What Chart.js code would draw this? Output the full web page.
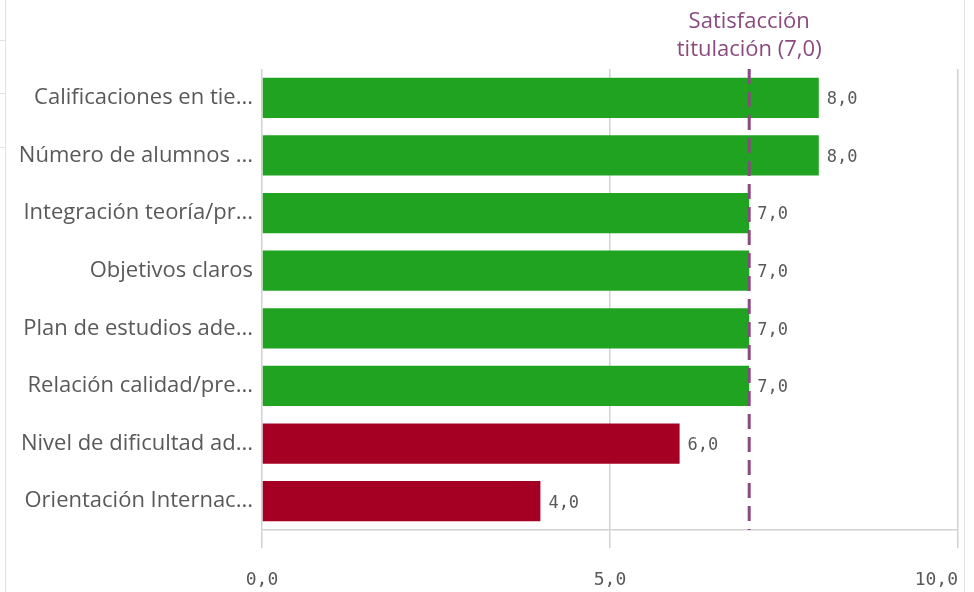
<!DOCTYPE html>
<html>
<head>
<meta charset="utf-8">
<script src="https://cdn.jsdelivr.net/npm/chart.js@4"></script>
<style>
    body { margin: 0; background: #fff; }
    #wrap { position: relative; width: 974px; height: 592px; }
    .edge { position: absolute; top: 0; bottom: 0; width: 1px; background: #e3e3e3; }
    .stub { position: absolute; left: 0; width: 5px; height: 1px; background: #e3e3e3; }
</style>
</head>
<body>
<div id="wrap">
    <canvas id="chart" width="974" height="592"></canvas>
    <div class="edge" style="left:5px"></div>
    <div class="edge" style="left:964px"></div>
    <div class="stub" style="top:40px"></div>
    <div class="stub" style="top:93px"></div>
    <div class="stub" style="top:147px"></div>
</div>
<script>
const categories = [
    "Calificaciones en tie...",
    "Número de alumnos ...",
    "Integración teoría/pr...",
    "Objetivos claros",
    "Plan de estudios ade...",
    "Relación calidad/pre...",
    "Nivel de dificultad ad...",
    "Orientación Internac..."
];
const scores = [8, 8, 7, 7, 7, 7, 6, 4];
const referenceValue = 7;
const referenceLabel = ["Satisfacción", "titulación (7,0)"];
const xTicks = [0, 5, 10];

const green = "#21a322";
const red = "#a50024";
const purple = "#8b4a7f";
const textGray = "#595959";
const monoFont = "'DejaVu Sans Mono', monospace";
const sansFont = "'Open Sans', 'Noto Sans', sans-serif";

function fmt(v) {
    return v.toFixed(1).replace(".", ",");
}

// bars below the reference line get the red colour
const barColors = scores.map(v => v >= referenceValue ? green : red);

const extrasPlugin = {
    id: "extras",
    afterDatasetsDraw(chart) {
        const ctx = chart.ctx;
        const xScale = chart.scales.x;
        const area = chart.chartArea;
        const meta = chart.getDatasetMeta(0);

        // value labels next to the bars
        ctx.save();
        ctx.font = "17px " + monoFont;
        ctx.fillStyle = textGray;
        ctx.textAlign = "left";
        ctx.textBaseline = "middle";
        meta.data.forEach((bar, i) => {
            ctx.fillText(fmt(scores[i]), bar.x + 8, bar.y + 2);
        });

        // dashed reference line
        const rx = xScale.getPixelForValue(referenceValue);
        ctx.strokeStyle = purple;
        ctx.lineWidth = 3;
        ctx.setLineDash([15, 8]);
        ctx.beginPath();
        ctx.moveTo(rx, area.top);
        ctx.lineTo(rx, area.bottom);
        ctx.stroke();
        ctx.setLineDash([]);

        ctx.font = "22px " + sansFont;
        ctx.fillStyle = purple;
        ctx.textAlign = "center";
        ctx.fillText(referenceLabel[0], rx, 22);
        ctx.fillText(referenceLabel[1], rx, 50);

        // x tick labels: first/middle centred, last right-aligned
        ctx.font = "18px " + monoFont;
        ctx.fillStyle = textGray;
        xTicks.forEach((t, i) => {
            const px = xScale.getPixelForValue(t);
            ctx.textAlign = i === xTicks.length - 1 ? "right" : "center";
            ctx.fillText(fmt(t), px, 580);
        });
        ctx.restore();
    }
};

new Chart(document.getElementById("chart"), {
    type: "bar",
    data: {
        labels: categories,
        datasets: [
            {
                data: scores,
                backgroundColor: barColors,
                barPercentage: 0.7,
                categoryPercentage: 1
            }
        ]
    },
    options: {
        indexAxis: "y",
        responsive: false,
        animation: false,
        layout: { padding: { top: 69, right: 16, left: 0, bottom: 0 } },
        plugins: {
            legend: { display: false },
            tooltip: { enabled: false }
        },
        scales: {
            x: {
                min: 0,
                max: 10,
                afterBuildTicks: scale => {
                    scale.ticks = xTicks.map(v => ({ value: v }));
                },
                afterFit: scale => {
                    scale.height = 62;
                    scale.paddingLeft = 0;
                    scale.paddingRight = 0;
                },
                ticks: { display: false },
                grid: {
                    color: "#d2d2d2",
                    lineWidth: 1.5,
                    drawTicks: true,
                    tickLength: 18
                },
                border: { display: true, color: "#d2d2d2", width: 1.5 }
            },
            y: {
                afterFit: scale => {
                    scale.width = 262;
                },
                ticks: {
                    color: textGray,
                    font: { family: sansFont, size: 22 },
                    padding: 9
                },
                grid: { display: false, drawTicks: false },
                border: { display: false }
            }
        }
    },
    plugins: [extrasPlugin]
});
</script>
</body>
</html>
